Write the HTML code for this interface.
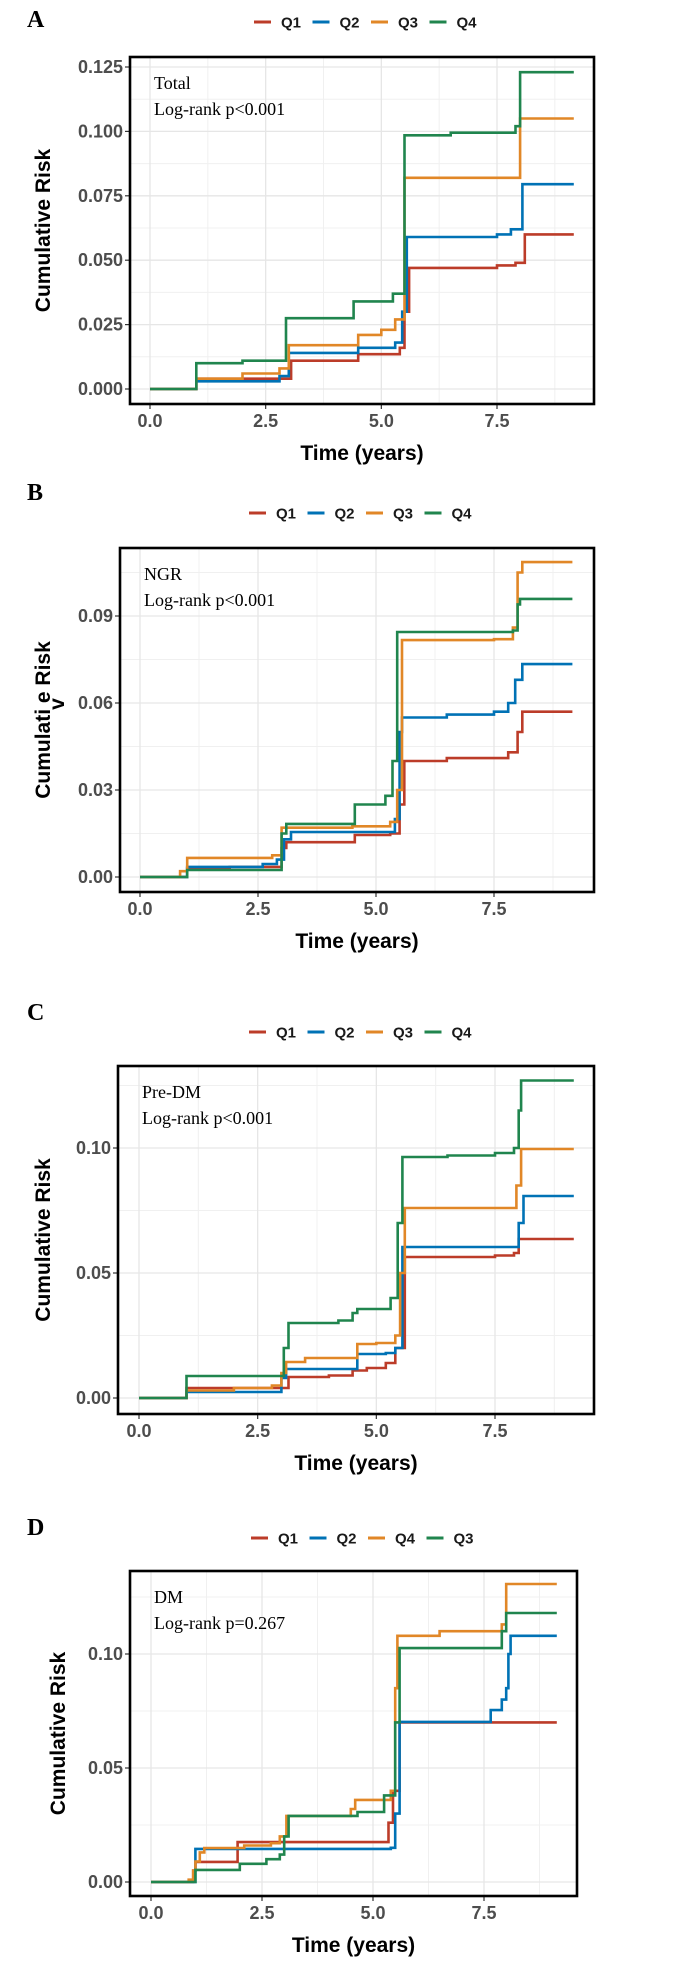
<!DOCTYPE html>
<html><head><meta charset="utf-8"><style>
body{margin:0;background:#fff;width:675px;height:1977px;overflow:hidden}
svg{display:block}
.tk{font:bold 18px "Liberation Sans",sans-serif;fill:#4d4d4d}
.tt{font:bold 21px "Liberation Sans",sans-serif;fill:#000}
.lg{font:bold 15px "Liberation Sans",sans-serif;fill:#1a1a1a}
.an{font:18px "Liberation Serif",serif;fill:#000}
.pl{font:bold 24px "Liberation Serif",serif;fill:#000}
</style></head><body>
<svg id="fig" width="675" height="1977"></svg>
<script>
// ---- Panel A (Total) ----
const A_Q1_t=[1.0,3.05,4.5,5.4,5.5,5.6,7.5,7.9,8.1];
const A_Q1_v=[0.004,0.011,0.0135,0.016,0.03,0.047,0.048,0.049,0.060];
const A_Q2_t=[1.0,2.8,3.0,4.5,5.3,5.45,5.55,7.5,7.8,8.05];
const A_Q2_v=[0.003,0.005,0.014,0.016,0.018,0.03,0.059,0.060,0.062,0.0795];
const A_Q3_t=[1.0,2.0,2.8,3.0,4.5,5.0,5.3,5.5,8.0];
const A_Q3_v=[0.004,0.006,0.008,0.017,0.021,0.023,0.027,0.082,0.105];
const A_Q4_t=[1.0,2.0,2.94,4.4,5.25,5.5,6.5,7.9,8.0];
const A_Q4_v=[0.010,0.011,0.0275,0.034,0.037,0.0985,0.0995,0.102,0.123];
// ---- Panel B (NGR) ----
const B_Q1_t=[1.0,1.9,3.0,3.1,4.55,5.3,5.5,5.6,6.5,7.8,8.0,8.1];
const B_Q1_v=[0.003,0.0035,0.010,0.012,0.0145,0.015,0.025,0.040,0.041,0.043,0.050,0.057];
const B_Q2_t=[1.0,2.6,2.9,3.05,3.2,5.4,5.5,5.55,6.5,7.5,7.8,7.95,8.1];
const B_Q2_v=[0.0035,0.0045,0.006,0.013,0.0155,0.020,0.050,0.055,0.056,0.057,0.060,0.068,0.0734];
const B_Q3_t=[0.85,1.0,2.8,3.0,4.5,5.3,5.45,5.55,7.5,7.9,8.0,8.1];
const B_Q3_v=[0.002,0.0066,0.0075,0.017,0.0175,0.019,0.030,0.0817,0.082,0.086,0.105,0.1086];
const B_Q4_t=[1.0,3.0,3.1,4.55,5.2,5.35,5.45,7.9,8.0,8.05];
const B_Q4_v=[0.0024,0.015,0.0183,0.025,0.028,0.040,0.0845,0.085,0.094,0.0959];
// ---- Panel C (Pre-DM) ----
const C_Q1_t=[1.0,3.15,4.0,4.5,4.8,5.2,5.4,5.6,7.5,7.9,8.0];
const C_Q1_v=[0.004,0.0084,0.009,0.011,0.012,0.014,0.020,0.0564,0.057,0.058,0.0636];
const C_Q2_t=[1.0,3.0,3.1,4.6,5.2,5.4,5.55,8.0,8.1];
const C_Q2_v=[0.0024,0.008,0.0116,0.0176,0.018,0.020,0.0604,0.070,0.0808];
const C_Q3_t=[1.0,2.0,2.8,3.0,3.1,3.5,4.6,5.0,5.4,5.5,5.6,7.95,8.05];
const C_Q3_v=[0.003,0.004,0.005,0.010,0.0144,0.016,0.0216,0.022,0.025,0.050,0.076,0.085,0.0996];
const C_Q4_t=[1.0,3.05,3.15,4.2,4.5,4.6,5.3,5.45,5.55,6.5,7.5,7.9,8.0,8.05];
const C_Q4_v=[0.0088,0.020,0.030,0.031,0.034,0.0356,0.040,0.070,0.0964,0.097,0.098,0.100,0.115,0.127];
// ---- Panel D (DM) ----
const D_Q1_t=[0.95,1.0,1.95,5.35,5.45,5.6];
const D_Q1_v=[0.005,0.0088,0.0175,0.026,0.040,0.070];
const D_Q2_t=[1.0,5.4,5.5,5.6,7.65,7.9,8.0,8.05,8.1];
const D_Q2_v=[0.0145,0.015,0.030,0.0702,0.0754,0.080,0.085,0.100,0.108];
const D_Q4_t=[0.85,0.95,1.0,1.1,1.2,2.1,2.7,2.9,3.05,4.5,4.6,5.4,5.5,5.55,6.5,7.9,8.0];
const D_Q4_v=[0.001,0.005,0.009,0.013,0.0149,0.016,0.017,0.020,0.029,0.032,0.036,0.040,0.085,0.108,0.110,0.113,0.1307];
const D_Q3_t=[1.0,2.0,2.6,2.9,3.0,3.1,4.65,5.25,5.5,5.6,7.9,8.0];
const D_Q3_v=[0.0053,0.008,0.010,0.012,0.020,0.029,0.0307,0.038,0.070,0.1026,0.110,0.118];

const xTicks=[0,2.5,5,7.5];
const xTickLabels=["0.0","2.5","5.0","7.5"];
const A_yTicks=[0,0.025,0.05,0.075,0.1,0.125];
const A_yLabels=["0.000","0.025","0.050","0.075","0.100","0.125"];
const B_yTicks=[0,0.03,0.06,0.09];
const B_yLabels=["0.00","0.03","0.06","0.09"];
const CD_yTicks=[0,0.05,0.1];
const CD_yLabels=["0.00","0.05","0.10"];

const COL={Q1:"#BC3C29",Q2:"#0072B5",Q3:"#E18727",Q4:"#20854E"};
const NS="http://www.w3.org/2000/svg";
const svg=document.getElementById('fig');
function mk(tag,attrs,parent,text){const e=document.createElementNS(NS,tag);for(const k in attrs)e.setAttribute(k,attrs[k]);if(text!==undefined)e.textContent=text;(parent||svg).appendChild(e);return e;}

function panel(P){
  const g=mk('g',{});
  
  
  const X=t=>P.x0+(P.x75-P.x0)*t/7.5;
  const Y=v=>P.y0+(P.yr-P.y0)*v/P.yref;
  const [L,T,R,B]=P.box;
  const minorX=[1.25,3.75,6.25,8.75];
  minorX.forEach(t=>{const l=mk('line',{x1:X(t),x2:X(t),y1:T,y2:B,stroke:'#f0f0f0','stroke-width':1},g);});
  P.minorY.forEach(v=>{const l=mk('line',{x1:L,x2:R,y1:Y(v),y2:Y(v),stroke:'#f0f0f0','stroke-width':1},g);});
  xTicks.forEach((t,i)=>{
    const l=mk('line',{x1:X(t),x2:X(t),y1:T,y2:B,stroke:'#e6e6e6','stroke-width':1.3},g);
    
    mk('line',{x1:X(t),x2:X(t),y1:B,y2:B+5,stroke:'#333','stroke-width':1.2},g);
    const tx=mk('text',{x:X(t),y:B+23,'text-anchor':'middle',class:'tk'},g,xTickLabels[i]);
    
  });
  P.yTicks.forEach((v,i)=>{
    const l=mk('line',{x1:L,x2:R,y1:Y(v),y2:Y(v),stroke:'#e6e6e6','stroke-width':1.3},g);
    
    mk('line',{x1:L-5,x2:L,y1:Y(v),y2:Y(v),stroke:'#333','stroke-width':1.2},g);
    const tx=mk('text',{x:L-7,y:Y(v)+6,'text-anchor':'end',class:'tk'},g,P.yLabels[i]);
    
  });
  P.series.forEach(s=>{
    let d='M'+X(0)+','+Y(0);
    s.t.forEach((t,i)=>{d+=' H'+X(t).toFixed(1)+' V'+Y(s.v[i]).toFixed(1);});
    d+=' H'+X(P.end).toFixed(1);
    const p=mk('path',{d:d,fill:'none',stroke:s.color||COL[s.name],'stroke-width':2.6},g);
    
    
  });
  const bx=mk('rect',{x:L,y:T,width:R-L,height:B-T,fill:'none',stroke:'#000','stroke-width':2.6},g);
  
  const a1=mk('text',{x:L+24,y:T+32,class:'an'},g,P.label);
  
  const a2=mk('text',{x:L+24,y:T+58,class:'an'},g,P.pval);
  
  const xt=mk('text',{x:(L+R)/2,y:B+56,'text-anchor':'middle',class:'tt'},g,'Time (years)');
  
  const yt=mk('text',{x:0,y:0,'text-anchor':'middle',class:'tt',transform:`translate(${P.ytx},${(T+B)/2}) rotate(-90)`},g,P.ytitle);
  
  const pl=mk('text',{x:27,y:P.letterY,class:'pl'},g,P.id);
  
  let lx=P.legX;
  P.series.forEach(s=>{
    const lg=mk('g',{},g);
    
    
    mk('line',{x1:lx,x2:lx+17,y1:P.legY,y2:P.legY,stroke:s.color||COL[s.name],'stroke-width':3},lg);
    mk('text',{x:lx+27,y:P.legY+5.5,class:'lg'},lg,s.name);
    lx+=58.5;
  });
  return g;
}

panel({id:'A',box:[130,57,594,404],x0:150,x75:497,y0:389,yr:67,yref:0.125,end:9.16,
  yTicks:A_yTicks,yLabels:A_yLabels,minorY:[0.0125,0.0375,0.0625,0.0875,0.1125],
  label:'Total',pval:'Log-rank p<0.001',ytitle:'Cumulative Risk',ytx:50,letterY:27,legX:254,legY:22,
  series:[{name:'Q1',t:A_Q1_t,v:A_Q1_v},{name:'Q2',t:A_Q2_t,v:A_Q2_v},{name:'Q3',t:A_Q3_t,v:A_Q3_v},{name:'Q4',t:A_Q4_t,v:A_Q4_v}]});
panel({id:'B',box:[120,548,594,892],x0:140,x75:494,y0:877,yr:616,yref:0.09,end:9.16,
  yTicks:B_yTicks,yLabels:B_yLabels,minorY:[0.015,0.045,0.075,0.105],
  label:'NGR',pval:'Log-rank p<0.001',ytitle:'Cumulati  e Risk',ytx:50,letterY:500,legX:249,legY:513,
  series:[{name:'Q1',t:B_Q1_t,v:B_Q1_v},{name:'Q2',t:B_Q2_t,v:B_Q2_v},{name:'Q3',t:B_Q3_t,v:B_Q3_v},{name:'Q4',t:B_Q4_t,v:B_Q4_v}]});
const vv=mk('text',{x:0,y:0,class:'tt','text-anchor':'middle',transform:'translate(64,704) rotate(-90)'},svg,'v');


panel({id:'C',box:[118,1066,594,1414],x0:139,x75:495,y0:1398,yr:1148,yref:0.1,end:9.16,
  yTicks:CD_yTicks,yLabels:CD_yLabels,minorY:[0.025,0.075,0.125],
  label:'Pre-DM',pval:'Log-rank p<0.001',ytitle:'Cumulative Risk',ytx:50,letterY:1020,legX:249,legY:1032,
  series:[{name:'Q1',t:C_Q1_t,v:C_Q1_v},{name:'Q2',t:C_Q2_t,v:C_Q2_v},{name:'Q3',t:C_Q3_t,v:C_Q3_v},{name:'Q4',t:C_Q4_t,v:C_Q4_v}]});
panel({id:'D',box:[130,1571,577,1896],x0:151,x75:484,y0:1882,yr:1654,yref:0.1,end:9.14,
  yTicks:CD_yTicks,yLabels:CD_yLabels,minorY:[0.025,0.075,0.125],
  label:'DM',pval:'Log-rank p=0.267',ytitle:'Cumulative Risk',ytx:65,letterY:1535,legX:251,legY:1538,
  series:[{name:'Q1',t:D_Q1_t,v:D_Q1_v},{name:'Q2',t:D_Q2_t,v:D_Q2_v},{name:'Q4',t:D_Q4_t,v:D_Q4_v,color:'#E18727'},{name:'Q3',t:D_Q3_t,v:D_Q3_v,color:'#20854E'}]});
</script>
</body></html>
